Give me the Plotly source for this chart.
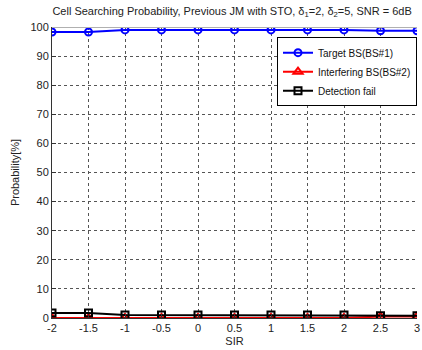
import plotly.graph_objects as go

# SIR sweep and detection outcome probabilities (%)
sir = [-2, -1.5, -1, -0.5, 0, 0.5, 1, 1.5, 2, 2.5, 3]
target_bs = [98.3, 98.3, 99.0, 99.0, 99.0, 99.0, 99.0, 99.0, 99.0, 98.7, 98.7]
interfering_bs = [0.0, 0.0, 0.0, 0.0, 0.0, 0.0, 0.0, 0.0, 0.0, 0.5, 0.5]
detection_fail = [1.7, 1.7, 1.0, 1.0, 1.0, 1.0, 1.0, 1.0, 1.0, 0.8, 0.8]

x_ticks = [-2, -1.5, -1, -0.5, 0, 0.5, 1, 1.5, 2, 2.5, 3]
x_tick_text = ["-2", "-1.5", "-1", "-0.5", "0", "0.5", "1", "1.5", "2", "2.5", "3"]
y_ticks = list(range(0, 101, 10))

font = dict(family="Liberation Sans, Arial, sans-serif", size=11, color="#222222")

fig = go.Figure()
fig.add_trace(go.Scatter(
    x=sir, y=target_bs, name="Target BS(BS#1)", mode="lines+markers",
    line=dict(color="#0000ff", width=2),
    marker=dict(symbol="circle-open", size=7, color="#0000ff", line=dict(width=2)),
))
fig.add_trace(go.Scatter(
    x=sir, y=interfering_bs, name="Interfering BS(BS#2)", mode="lines+markers",
    line=dict(color="#ff0000", width=2),
    marker=dict(symbol="triangle-up-open", size=8, color="#ff0000", line=dict(width=2)),
))
fig.add_trace(go.Scatter(
    x=sir, y=detection_fail, name="Detection fail", mode="lines+markers",
    line=dict(color="#000000", width=2),
    marker=dict(symbol="square-open", size=7, color="#000000", line=dict(width=2)),
))

# light grey top edge of the axes box
fig.add_shape(type="line", xref="paper", yref="y", x0=0, x1=1, y0=100, y1=100,
              line=dict(color="#b0b0b0", width=2))

fig.update_layout(
    width=422, height=350,
    margin=dict(l=52, r=2, t=27, b=32),
    paper_bgcolor="white", plot_bgcolor="white",
    font=font,
    showlegend=True,
    title=dict(
        text="Cell Searching Probability, Previous JM with STO, δ<sub>1</sub>=2, δ<sub>2</sub>=5, SNR = 6dB",
        x=0.55, xanchor="center", y=0.98, yanchor="top",
        font=dict(family="Liberation Sans, Arial, sans-serif", size=11, color="#222222"),
    ),
    legend=dict(
        x=1.0, xanchor="right", y=0.965, yanchor="top",
        bgcolor="white", bordercolor="#000000", borderwidth=1,
        font=dict(family="Liberation Sans, Arial, sans-serif", size=10, color="#111111"),
        tracegroupgap=0, itemwidth=30,
    ),
    xaxis=dict(
        range=[-2, 3], tickmode="array", tickvals=x_ticks, ticktext=x_tick_text,
        ticklabeloverflow="allow",
        showgrid=True, gridcolor="#555555", griddash="dot", gridwidth=1,
        showline=True, linecolor="#333333", linewidth=1,
        ticks="inside", ticklen=4, tickcolor="#333333",
        zeroline=False,
        title=dict(text="SIR", standoff=4, font=dict(size=11)),
    ),
    yaxis=dict(
        range=[0, 100], tickmode="array", tickvals=y_ticks,
        ticklabeloverflow="allow",
        showgrid=True, gridcolor="#555555", griddash="dot", gridwidth=1,
        showline=True, linecolor="#333333", linewidth=1,
        ticks="inside", ticklen=4, tickcolor="#333333",
        zeroline=False,
        title=dict(text="Probability[%]", standoff=8, font=dict(size=11)),
    ),
)

fig.write_html("out.html")
